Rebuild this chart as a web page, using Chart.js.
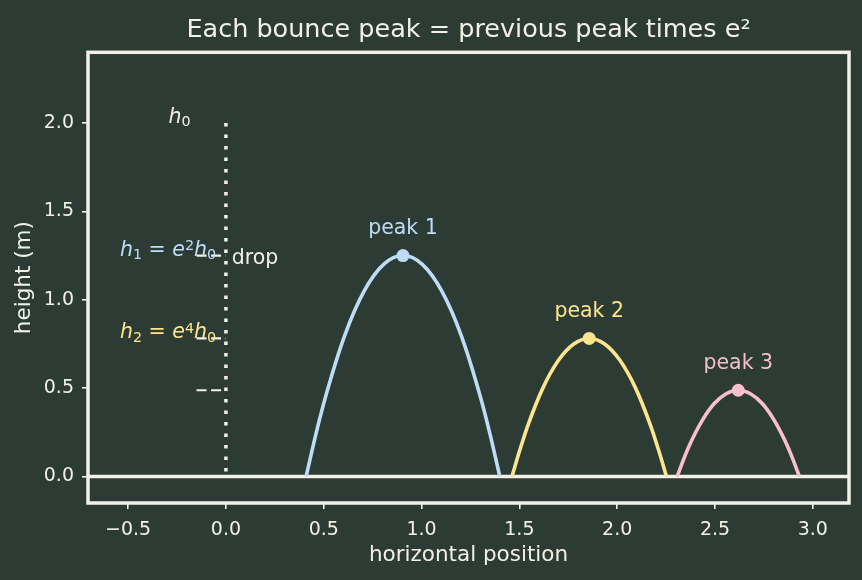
<!DOCTYPE html>
<html>
<head>
<meta charset="utf-8">
<script src="https://cdn.jsdelivr.net/npm/chart.js@4.4.1/dist/chart.umd.min.js"></script>
<style>
  html, body { margin: 0; padding: 0; background: #2c3b34; }
  canvas { display: block; }
</style>
</head>
<body>
<canvas id="bounceChart" width="862" height="580"></canvas>
<script>
// values
var xTicks = [-0.5, 0, 0.5, 1.0, 1.5, 2.0, 2.5, 3.0];
var yTicks = [0, 0.5, 1.0, 1.5, 2.0];
var dropHeight = 2.0;

var arc1X = [0.41, 0.46, 0.509, 0.608, 0.707, 0.806, 0.905, 1.004, 1.103, 1.202, 1.301, 1.35, 1.40];
var arc1Y = [0, 0.24, 0.45, 0.80, 1.05, 1.20, 1.25, 1.20, 1.05, 0.80, 0.45, 0.24, 0];
var arc2X = [1.462, 1.502, 1.541, 1.62, 1.699, 1.778, 1.857, 1.936, 2.015, 2.094, 2.173, 2.212, 2.252];
var arc2Y = [0, 0.148, 0.281, 0.50, 0.656, 0.75, 0.781, 0.75, 0.656, 0.50, 0.281, 0.148, 0];
var arc3X = [2.307, 2.338, 2.369, 2.432, 2.494, 2.557, 2.619, 2.681, 2.744, 2.806, 2.869, 2.90, 2.931];
var arc3Y = [0, 0.093, 0.176, 0.312, 0.41, 0.468, 0.488, 0.468, 0.41, 0.312, 0.176, 0.093, 0];

var peakLabels = ['peak 1', 'peak 2', 'peak 3'];
var peakX = [0.905, 1.857, 2.619];
var peakH = [1.25, 0.781, 0.488];

var arcColors = ['#bfdcf7', '#fde58f', '#f7bfd0'];
var ink = '#f3f1e7';
var FONT = '"DejaVu Sans", sans-serif';

function pts(xs, ys) {
    return xs.map(function (x, i) { return { x: x, y: ys[i] }; });
}

// draw a small math-like label: [text, style] with style '', 'i', 'sub', 'sup'
function drawMath(ctx, parts, x, y, align, size, color) {
    function fontOf(s) {
        var sz = (s === 'sub' || s === 'sup') ? size * 0.7 : size;
        return (s === 'i' ? 'italic ' : '') + sz + 'px ' + FONT;
    }
    var total = 0;
    parts.forEach(function (p) { ctx.font = fontOf(p[1]); total += ctx.measureText(p[0]).width; });
    var cx = align === 'right' ? x - total : (align === 'center' ? x - total / 2 : x);
    ctx.fillStyle = color;
    ctx.textAlign = 'left';
    ctx.textBaseline = 'alphabetic';
    parts.forEach(function (p) {
        ctx.font = fontOf(p[1]);
        var dy = p[1] === 'sub' ? size * 0.17 : (p[1] === 'sup' ? -size * 0.27 : 0);
        ctx.fillText(p[0], cx, y + dy);
        cx += ctx.measureText(p[0]).width;
    });
}

var decorations = {
    id: 'decorations',
    beforeDatasetsDraw: function (chart) {
        var ctx = chart.ctx, a = chart.chartArea;
        var y0 = chart.scales.y.getPixelForValue(0);
        ctx.save();
        ctx.strokeStyle = ink;
        ctx.lineWidth = 3.5;
        ctx.beginPath();
        ctx.moveTo(a.left, y0);
        ctx.lineTo(a.right, y0);
        ctx.stroke();
        ctx.restore();
    },
    afterDatasetsDraw: function (chart) {
        var ctx = chart.ctx, a = chart.chartArea;
        var xs = chart.scales.x, ys = chart.scales.y;
        ctx.save();
        // frame
        ctx.strokeStyle = ink;
        ctx.lineWidth = 3.5;
        ctx.strokeRect(a.left, a.top, a.right - a.left, a.bottom - a.top);

        // peak labels
        ctx.font = '20.5px ' + FONT;
        ctx.textAlign = 'center';
        ctx.textBaseline = 'alphabetic';
        peakLabels.forEach(function (t, i) {
            ctx.fillStyle = arcColors[i];
            ctx.fillText(t, xs.getPixelForValue(peakX[i]), ys.getPixelForValue(peakH[i]) - 21.5);
        });

        // drop
        ctx.fillStyle = ink;
        ctx.textAlign = 'left';
        ctx.fillText('drop', xs.getPixelForValue(0.03), ys.getPixelForValue(1.2));

        drawMath(ctx, [['h', 'i'], ['0', 'sub']],
            xs.getPixelForValue(-0.18), ys.getPixelForValue(dropHeight), 'right', 20.5, ink);
        drawMath(ctx, [['h', 'i'], ['1', 'sub'], [' = ', ''], ['e', 'i'], ['2', 'sup'], ['h', 'i'], ['0', 'sub']],
            xs.getPixelForValue(-0.05), ys.getPixelForValue(peakH[0]), 'right', 20.5, arcColors[0]);
        drawMath(ctx, [['h', 'i'], ['2', 'sub'], [' = ', ''], ['e', 'i'], ['4', 'sup'], ['h', 'i'], ['0', 'sub']],
            xs.getPixelForValue(-0.05), ys.getPixelForValue(peakH[1]), 'right', 20.5, arcColors[1]);
        ctx.restore();
    }
};

var arcs = [pts(arc1X, arc1Y), pts(arc2X, arc2Y), pts(arc3X, arc3Y)];
var datasets = [];

// dotted drop line
datasets.push({
    data: [{ x: 0, y: dropHeight }, { x: 0, y: 0 }],
    showLine: true, borderColor: ink, borderWidth: 3.5, borderDash: [3.4, 8.1],
    borderCapStyle: 'butt', pointRadius: 0
});
// short dashed height marks
peakH.forEach(function (h) {
    datasets.push({
        data: [{ x: -0.15, y: h }, { x: 0, y: h }],
        showLine: true, borderColor: ink, borderWidth: 2.2, borderDash: [10, 4.5],
        borderCapStyle: 'butt', pointRadius: 0
    });
});
arcs.forEach(function (d, i) {
    datasets.push({
        data: d, showLine: true, borderColor: arcColors[i], borderWidth: 3.6,
        cubicInterpolationMode: 'monotone', pointRadius: 0
    });
});
datasets.push({
    data: pts(peakX, peakH), showLine: false, pointRadius: 6.5,
    pointBackgroundColor: arcColors, pointBorderWidth: 0
});

var ctx = document.getElementById('bounceChart').getContext('2d');
var chart = new Chart(ctx, {
    type: 'scatter',
    data: { datasets: datasets },
    options: {
        responsive: false,
        animation: false,
        layout: { padding: { left: 0, right: 13, top: 0, bottom: 0 } },
        plugins: {
            legend: { display: false },
            tooltip: { enabled: false },
            title: {
                display: true,
                text: 'Each bounce peak = previous peak times e\u00b2',
                color: ink,
                fullSize: false,
                font: { family: FONT, size: 25.5, weight: 'normal' },
                padding: { top: 15.4, bottom: 6.3 }
            }
        },
        scales: {
            x: {
                type: 'linear',
                min: -0.705,
                max: 3.185,
                afterBuildTicks: function (s) { s.ticks = xTicks.map(function (v) { return { value: v }; }); },
                afterFit: function (s) { s.height = 77; },
                ticks: {
                    color: ink,
                    font: { family: FONT, size: 19 },
                    padding: 10,
                    callback: function (v) { return (v < 0 ? '\u2212' : '') + Math.abs(v).toFixed(1); }
                },
                grid: { drawOnChartArea: false, color: ink, lineWidth: 1.6, tickLength: 6 },
                border: { display: false },
                title: {
                    display: true, text: 'horizontal position', color: ink,
                    font: { family: FONT, size: 21.5 },
                    padding: { top: 0, bottom: 11.5 }
                }
            },
            y: {
                type: 'linear',
                min: -0.15,
                max: 2.4,
                afterBuildTicks: function (s) { s.ticks = yTicks.map(function (v) { return { value: v }; }); },
                afterFit: function (s) { s.width = 88; },
                ticks: {
                    color: ink,
                    font: { family: FONT, size: 19 },
                    padding: 8,
                    callback: function (v) { return v.toFixed(1); }
                },
                grid: { drawOnChartArea: false, color: ink, lineWidth: 1.6, tickLength: 6 },
                border: { display: false },
                title: {
                    display: true, text: 'height (m)', color: ink,
                    font: { family: FONT, size: 21.5 },
                    padding: { top: 11.2, bottom: 0 }
                }
            }
        }
    },
    plugins: [decorations]
});
</script>
</body>
</html>
